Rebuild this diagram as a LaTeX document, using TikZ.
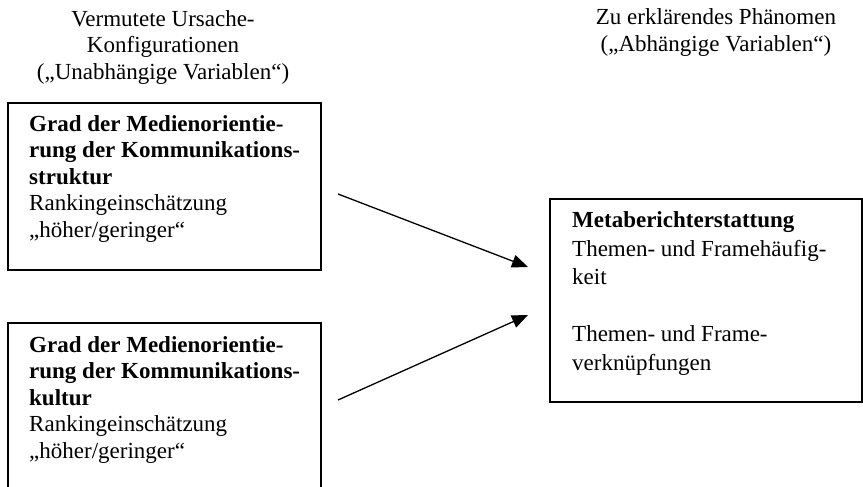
\documentclass[tikz,border=0pt]{standalone}
\usepackage{fontspec}
\setmainfont{Liberation Serif}
\usetikzlibrary{arrows.meta}
\begin{document}
\begin{tikzpicture}[x=1pt,y=-1pt,
  box/.style={draw, line width=1.8pt, inner sep=0pt, anchor=north west},
  txt/.style={anchor=base west, inner sep=0pt, align=left, font=\fontsize{23}{26.5}\selectfont},
  head/.style={anchor=base, inner sep=0pt, align=center, font=\fontsize{23}{27}\selectfont},
  conn/.style={line width=1.3pt, -{Triangle[length=16pt,width=13pt]}}]
\useasboundingbox (0,0) rectangle (863,487);
\clip (0,0) rectangle (863,487);
% headers (anchor = baseline of last line)
\node[head] (h1) at (163,80) {Vermutete Ursache-\\Konfigurationen\\(„Unabhängige Variablen“)};
\node[head] (h2) at (716,52) {Zu erklärendes Phänomen\\(„Abhängige Variablen“)};
% boxes
\node[box, minimum width=313pt, minimum height=167pt] (b1) at (7,102) {};
\node[box, minimum width=313pt, minimum height=200pt] (b2) at (7,322) {};
\node[box, minimum width=312pt, minimum height=203pt] (b3) at (549,198) {};
% box texts (anchor = baseline of last line)
\node[txt] (t1) at (29,237) {\textbf{Grad der Medienorientie-}\\\textbf{rung der Kommunikations-}\\\textbf{struktur}\\Rankingeinschätzung\\„höher/geringer“};
\node[txt] (t2) at (29,458) {\textbf{Grad der Medienorientie-}\\\textbf{rung der Kommunikations-}\\\textbf{kultur}\\Rankingeinschätzung\\„höher/geringer“};
\node[txt, font=\fontsize{23}{28.5}\selectfont] (t3) at (572,370) {\textbf{Metaberichterstattung}\\Themen- und Framehäufig-\\keit\\[28.5pt]Themen- und Frame-\\verknüpfungen};
% connectors
\coordinate (a1s) at (338,194);
\coordinate (a1e) at (528,267);
\coordinate (a2s) at (338,400);
\coordinate (a2e) at (528,315);
\draw[conn] (a1s) -- (a1e);
\draw[conn] (a2s) -- (a2e);
\end{tikzpicture}
\end{document}
